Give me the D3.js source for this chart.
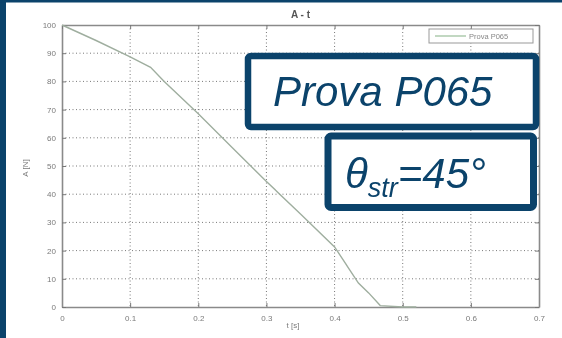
<!DOCTYPE html>
<html>
<head>
<meta charset="utf-8">
<script src="https://cdn.jsdelivr.net/npm/d3@7"></script>
<style>
  html, body { margin: 0; padding: 0; background: #fff; }
  svg { display: block; }
</style>
</head>
<body>
<svg id="chart" width="562" height="338"></svg>
<script>
// Force A [N] against time t [s] for test P065
const timeS = [0, 0.05, 0.1, 0.13, 0.15, 0.2, 0.25, 0.3, 0.35, 0.4, 0.42, 0.435, 0.45, 0.467, 0.5, 0.52];
const forceN = [100, 94.5, 88.7, 85, 80, 68.5, 56.5, 44.5, 33, 21.3, 14, 8.5, 5, 0.5, 0, 0];
const xTicks = [0, 0.1, 0.2, 0.3, 0.4, 0.5, 0.6, 0.7];
const yTicks = [0, 10, 20, 30, 40, 50, 60, 70, 80, 90, 100];
const seriesName = "Prova P065";
const chartTitle = "A - t";
const xTitle = "t [s]";
const yTitle = "A [N]";

const svg = d3.select("#chart");
const navy = "#0b436b";

const plot = { left: 62, right: 539, top: 25, bottom: 307 };
const x = d3.scaleLinear().domain([0, 0.7]).range([plot.left, plot.right]);
const y = d3.scaleLinear().domain([0, 100]).range([plot.bottom, plot.top]);

// soft look of the embedded plot image
const defs = svg.append("defs");
defs.append("filter").attr("id", "soft")
  .append("feGaussianBlur").attr("stdDeviation", 0.55);

const g = svg.append("g").attr("filter", "url(#soft)");

// dotted grid
g.append("g").selectAll("line").data(xTicks.slice(1, -1)).join("line")
  .attr("x1", d => x(d)).attr("x2", d => x(d))
  .attr("y1", plot.top).attr("y2", plot.bottom)
  .attr("stroke", "#555").attr("stroke-width", 0.8).attr("stroke-dasharray", "1,2.5");
g.append("g").selectAll("line").data(yTicks.slice(1, -1)).join("line")
  .attr("y1", d => y(d)).attr("y2", d => y(d))
  .attr("x1", plot.left).attr("x2", plot.right)
  .attr("stroke", "#555").attr("stroke-width", 0.8).attr("stroke-dasharray", "1,2.5");

// axes with inward ticks, MATLAB style
const tickFmt = d3.format("~g");
const axB = g.append("g").attr("transform", `translate(0,${plot.bottom})`)
  .call(d3.axisBottom(x).tickValues(xTicks).tickFormat(tickFmt).tickSizeInner(-4).tickSizeOuter(0).tickPadding(8));
const axL = g.append("g").attr("transform", `translate(${plot.left},0)`)
  .call(d3.axisLeft(y).tickValues(yTicks).tickFormat(tickFmt).tickSizeInner(-4).tickSizeOuter(0).tickPadding(6));
const axT = g.append("g").attr("transform", `translate(0,${plot.top})`)
  .call(d3.axisTop(x).tickValues(xTicks).tickFormat("").tickSizeInner(-4).tickSizeOuter(0));
const axR = g.append("g").attr("transform", `translate(${plot.right},0)`)
  .call(d3.axisRight(y).tickValues(yTicks).tickFormat("").tickSizeInner(-4).tickSizeOuter(0));
[axB, axL, axT, axR].forEach(a => {
  a.select(".domain").attr("stroke", "#8a8a8a").attr("stroke-width", 1.6);
  a.selectAll(".tick line").attr("stroke", "#777");
  a.selectAll("text").attr("fill", "#7a7a7a")
    .style("font-family", "Liberation Sans, Arial, sans-serif").style("font-size", "8px");
});

// data line
g.append("path").datum(timeS.map((t, i) => [t, forceN[i]]))
  .attr("fill", "none").attr("stroke", "#9fae9f").attr("stroke-width", 1.4)
  .attr("d", d3.line().x(d => x(d[0])).y(d => y(d[1])));

// titles
g.append("text").attr("x", (plot.left + plot.right) / 2).attr("y", 18)
  .attr("text-anchor", "middle").attr("fill", "#555").attr("font-weight", "bold")
  .style("font-family", "Liberation Sans, Arial, sans-serif").style("font-size", "10px")
  .text(chartTitle);
g.append("text").attr("x", 293).attr("y", 328)
  .attr("text-anchor", "middle").attr("fill", "#7a7a7a")
  .style("font-family", "Liberation Sans, Arial, sans-serif").style("font-size", "8px")
  .text(xTitle);
g.append("text").attr("transform", `translate(28,${(plot.top + plot.bottom) / 2 + 2}) rotate(-90)`)
  .attr("text-anchor", "middle").attr("fill", "#7a7a7a")
  .style("font-family", "Liberation Sans, Arial, sans-serif").style("font-size", "8px")
  .text(yTitle);

// legend
const lg = g.append("g");
lg.append("rect").attr("x", 429).attr("y", 29).attr("width", 104).attr("height", 14)
  .attr("fill", "#fff").attr("stroke", "#999").attr("stroke-width", 1);
lg.append("line").attr("x1", 435).attr("x2", 466).attr("y1", 36).attr("y2", 36)
  .attr("stroke", "#a8c8a8").attr("stroke-width", 1.4);
lg.append("text").attr("x", 469).attr("y", 39).attr("fill", "#888")
  .style("font-family", "Liberation Sans, Arial, sans-serif").style("font-size", "7.5px")
  .text(seriesName);

// slide frame strips
svg.append("rect").attr("x", 0).attr("y", 0).attr("width", 6).attr("height", 338).attr("fill", navy);
svg.append("rect").attr("x", 0).attr("y", 0).attr("width", 562).attr("height", 2.5).attr("fill", navy);

// callout boxes
const box1 = svg.append("g");
box1.append("rect").attr("x", 248).attr("y", 56).attr("width", 288).attr("height", 71)
  .attr("rx", 3).attr("fill", "#fff").attr("stroke", navy).attr("stroke-width", 6.5);
box1.append("text").attr("x", 273).attr("y", 106).attr("fill", navy)
  .attr("font-style", "italic")
  .style("font-family", "Liberation Sans, Arial, sans-serif").style("font-size", "42px")
  .text(seriesName);

const box2 = svg.append("g");
box2.append("rect").attr("x", 328).attr("y", 136).attr("width", 205.5).attr("height", 71.5)
  .attr("rx", 3).attr("fill", "#fff").attr("stroke", navy).attr("stroke-width", 7);
const t2 = box2.append("text").attr("x", 345).attr("y", 188).attr("fill", navy)
  .attr("font-style", "italic")
  .style("font-family", "Liberation Sans, Arial, sans-serif").style("font-size", "42px");
t2.append("tspan").text("θ");
t2.append("tspan").attr("dy", 9).style("font-size", "27px").text("str");
t2.append("tspan").attr("dy", -9).text("=45°");
</script>
</body>
</html>
